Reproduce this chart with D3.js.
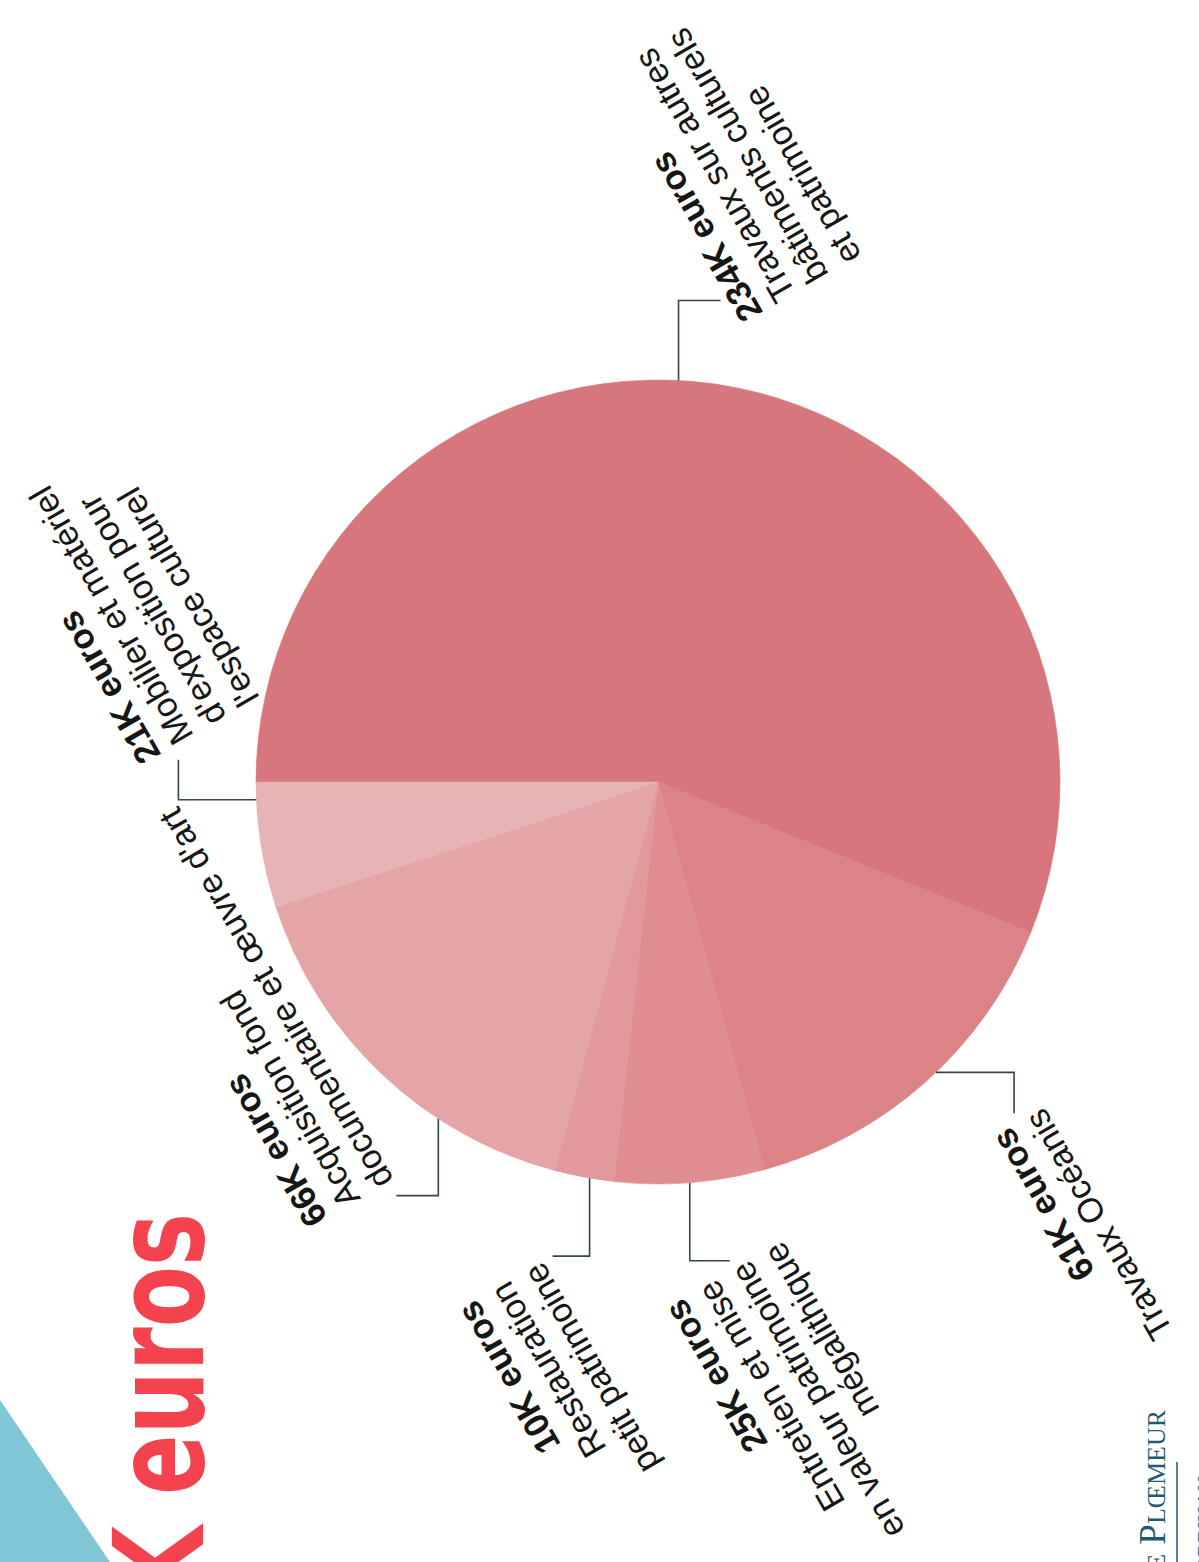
<!DOCTYPE html>
<html lang="fr">
<head>
<meta charset="utf-8">
<title>Investissements culture et patrimoine</title>
<script src="https://cdn.jsdelivr.net/npm/d3@7"></script>
<style>
  html, body { margin: 0; padding: 0; background: #ffffff; }
  svg { display: block; }
  .lbl { font-family: "Liberation Sans", Arial, Helvetica, sans-serif; font-size: 34.5px; fill: #161616; }
  .lbl .val { font-weight: bold; font-size: 35px; }
</style>
</head>
<body>
<div id="chart"></div>
<script>
// Dépenses d'investissement, en milliers d'euros
const categories = [
  "Travaux sur autres bâtiments culturels et patrimoine",
  "Travaux Océanis",
  "Entretien et mise en valeur patrimoine mégalithique",
  "Restauration petit patrimoine",
  "Acquisition fond documentaire et œuvre d'art",
  "Mobilier et matériel d'exposition pour l'espace culturel"
];
const values = [234, 61, 25, 10, 66, 21];
const unit = "K euros";

// Category text as it is broken over lines under each amount
const labelLines = [
  ["Travaux sur autres", "bâtiments culturels", "et patrimoine"],
  ["Travaux Océanis"],
  ["Entretien et mise", "en valeur patrimoine", "mégalithique"],
  ["Restauration", "petit patrimoine"],
  ["Acquisition fond", "documentaire et œuvre d'art"],
  ["Mobilier et matériel", "d'exposition pour", "l'espace culturel"]
];

// Slice fills, one per category
const sliceColors = ["#d7777d", "#db8385", "#df8e8f", "#e2999b", "#e4a5a6", "#e8b3b4"];

// Leader layout: where on the rim the line starts (fraction of the slice),
// the two elbow legs, and the offset of the text block from the line end.
const leaderLayout = [
  { t: 0.46, legs: [[0, -80], [42, 0]],  text: [43, 12],  anchor: "start" },
  { t: 0.46, legs: [[78, 0],  [0, 41]],  text: [-3, 12],  anchor: "end" },
  { t: 0.50, legs: [[0, 78],  [40, 0]],  text: [-46, 36], anchor: "end" },
  { t: 0.41, legs: [[0, 78],  [-37, 0]], text: [-76, 42], anchor: "end" },
  { t: 0.32, legs: [[0, 77],  [-42, 0]], text: [-68, 22], anchor: "start" },
  { t: 0.86, legs: [[-78, 0], [0, -40]], text: [-17, -5], anchor: "start" }
];

const W = 1199, H = 1562;
const cx = 658, cy = 782, R = 402;
const lineStep = 38;
const textAngle = -120;   // the printed sheet is turned upside down

const svg = d3.select("#chart").append("svg")
  .attr("width", W).attr("height", H)
  .attr("viewBox", `0 0 ${W} ${H}`);

svg.append("rect").attr("width", W).attr("height", H).attr("fill", "#ffffff");

// Blue corner band
svg.append("path")
  .attr("d", d3.line()([[0, 1400], [110, H], [0, H]]) + "Z")
  .attr("fill", "#80c6d6");

// Pie
const pie = d3.pie().sort(null).value(d => d)
  .startAngle(1.5 * Math.PI).endAngle(3.5 * Math.PI);
const arcs = pie(values);
const arc = d3.arc().innerRadius(0).outerRadius(R);

const gPie = svg.append("g").attr("transform", `translate(${cx},${cy})`);
gPie.selectAll("path.slice")
  .data(arcs)
  .join("path")
  .attr("class", "slice")
  .attr("d", arc)
  .attr("fill", (d, i) => sliceColors[i])
  .attr("stroke", (d, i) => sliceColors[i])
  .attr("stroke-width", 0.6);

// Leaders and labels
const gLab = svg.append("g");
arcs.forEach((d, i) => {
  const L = leaderLayout[i];
  const a = d.startAngle + L.t * (d.endAngle - d.startAngle);
  const p0 = [cx + R * Math.sin(a), cy - R * Math.cos(a)];
  const p1 = [p0[0] + L.legs[0][0], p0[1] + L.legs[0][1]];
  const p2 = [p1[0] + L.legs[1][0], p1[1] + L.legs[1][1]];

  gLab.append("path")
    .attr("d", d3.line()([p0, p1, p2]))
    .attr("fill", "none")
    .attr("stroke", "#33454d")
    .attr("stroke-width", 1.6);

  const tx = p2[0] + L.text[0], ty = p2[1] + L.text[1];
  const t = gLab.append("text")
    .attr("class", "lbl")
    .attr("text-anchor", L.anchor)
    .attr("transform", `translate(${tx},${ty}) rotate(${textAngle})`);
  t.append("tspan").attr("class", "val").attr("x", 0).attr("y", 0)
    .text(`${d.data}${unit}`);
  labelLines[i].forEach((line, k) => {
    t.append("tspan").attr("x", 0).attr("y", (k + 1) * lineStep).text(line);
  });
});

// Headline total, set in a narrow heavy face; the run "euros" is fitted to 282px
const titleFont = "'Liberation Sans Narrow', 'DejaVu Sans Condensed', 'Liberation Sans', sans-serif";
const probe = svg.append("text")
  .attr("font-family", titleFont).attr("font-weight", "bold").attr("font-size", 124)
  .text("euros");
const squeeze = 282 / probe.node().getComputedTextLength();
probe.remove();

svg.append("text")
  .attr("transform", `translate(203,1213) rotate(-90) scale(${squeeze},1)`)
  .attr("text-anchor", "end")
  .attr("font-family", titleFont)
  .attr("font-weight", "bold")
  .attr("font-size", 124)
  .attr("fill", "#f4434f")
  .text(`${d3.sum(values)}${unit}`);

// Town mark
svg.append("text")
  .attr("transform", `translate(1165,1410) rotate(-90)`)
  .attr("text-anchor", "end")
  .attr("font-family", "'Liberation Serif', 'DejaVu Serif', serif")
  .attr("font-size", 37)
  .style("font-variant", "small-caps")
  .attr("fill", "#1f5b70")
  .text("de Plœmeur");

svg.append("line")
  .attr("x1", 1177).attr("x2", 1177).attr("y1", 1462).attr("y2", H)
  .attr("stroke", "#4f8696").attr("stroke-width", 2);

svg.append("text")
  .attr("transform", `translate(1212,1476) rotate(-90)`)
  .attr("text-anchor", "end")
  .attr("font-family", "'Liberation Serif', 'DejaVu Serif', serif")
  .attr("font-size", 30)
  .style("font-variant", "small-caps")
  .attr("fill", "#1f5b70")
  .text("Morbihan");
</script>
</body>
</html>
